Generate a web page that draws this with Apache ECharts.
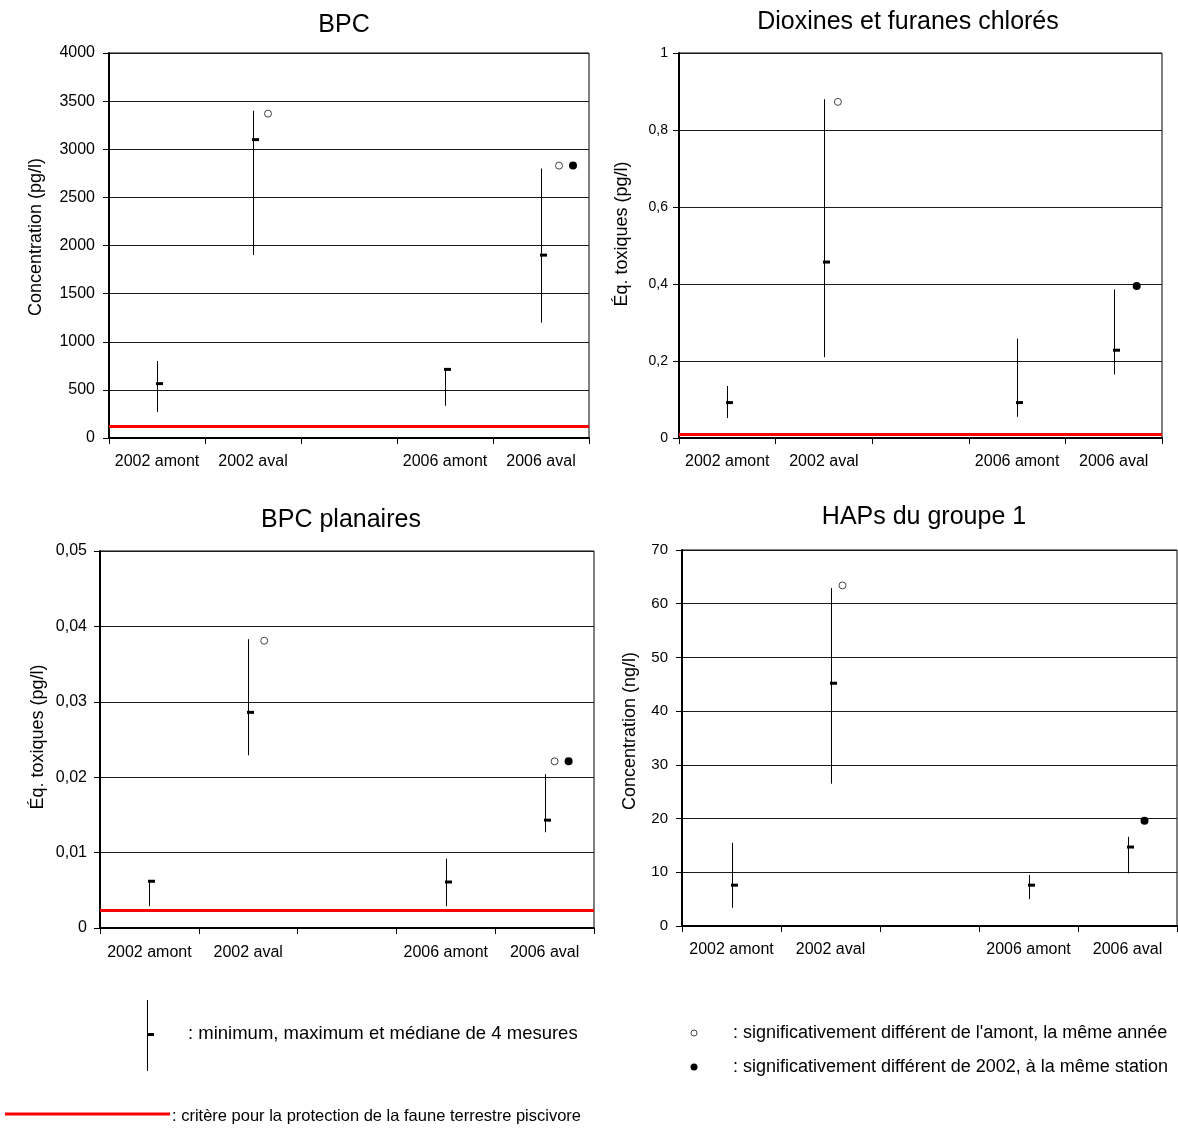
<!DOCTYPE html>
<html>
<head>
<meta charset="utf-8">
<script src="https://cdn.jsdelivr.net/npm/echarts@6/dist/echarts.min.js"></script>
<style>
html,body{margin:0;padding:0;background:#fff;}
#c{width:1178px;height:1141px;}
</style>
</head>
<body>
<div id="c"></div>
<script>
// ---------------- DATA ----------------
const categories = ['2002 amont', '2002 aval', '', '2006 amont', '2006 aval'];

// BPC (pg/l)
const bpcMin = [270, 1900, null, 335, 1200];
const bpcMax = [800, 3400, null, 715, 2800];
const bpcMed = [565, 3100, null, 713, 1900];
const bpcDiffAmont = [null, 3370, null, null, 2830];
const bpcDiff2002 = [null, null, null, null, 2830];
const bpcCritere = 120;
const bpcTicks = ['0', '500', '1000', '1500', '2000', '2500', '3000', '3500', '4000'];

// Dioxines et furanes chlorés (éq. toxiques pg/l)
const dioxMin = [0.052, 0.210, null, 0.055, 0.165];
const dioxMax = [0.135, 0.880, null, 0.258, 0.386];
const dioxMed = [0.092, 0.457, null, 0.092, 0.228];
const dioxDiffAmont = [null, 0.873, null, null, null];
const dioxDiff2002 = [null, null, null, null, 0.395];
const dioxCritere = 0.01;
const dioxTicks = ['0', '0,2', '0,4', '0,6', '0,8', '1'];

// BPC planaires (éq. toxiques pg/l)
const bpcpMin = [0.0029, 0.0229, null, 0.0029, 0.0127];
const bpcpMax = [0.0063, 0.0383, null, 0.0092, 0.0204];
const bpcpMed = [0.0062, 0.0286, null, 0.0061, 0.0143];
const bpcpDiffAmont = [null, 0.0381, null, null, 0.0221];
const bpcpDiff2002 = [null, null, null, null, 0.0221];
const bpcpCritere = 0.0023;
const bpcpTicks = ['0', '0,01', '0,02', '0,03', '0,04', '0,05'];

// HAPs du groupe 1 (ng/l)
const hapMin = [3.4, 26.5, null, 5.0, 9.8];
const hapMax = [15.5, 62.9, null, 9.5, 16.6];
const hapMed = [7.6, 45.2, null, 7.6, 14.7];
const hapDiffAmont = [null, 63.4, null, null, null];
const hapDiff2002 = [null, null, null, null, 19.6];
const hapCritere = null;
const hapTicks = ['0', '10', '20', '30', '40', '50', '60', '70'];

// ---------------- LAYOUT / STYLE ----------------
const FONT = '"Liberation Sans", Arial, Helvetica, sans-serif';
const panels = [
  { title: 'BPC', tx: 344, ty: 25, yName: 'Concentration (pg/l)', nx: 36, ny: 237,
    grid: { left: 109, top: 53, width: 480, height: 385 },
    max: 4000, interval: 500, ticks: bpcTicks, lblSize: 16, lblMargin: 14, xMargin: 16,
    min_: bpcMin, max_: bpcMax, med: bpcMed, open: bpcDiffAmont, fill: bpcDiff2002, crit: bpcCritere,
    openOff: [0, 15, 0, 0, 18], fillOff: [0, 0, 0, 0, 32] },
  { title: 'Dioxines et furanes chlorés', tx: 908, ty: 22, yName: 'Éq. toxiques (pg/l)', nx: 622, ny: 234,
    grid: { left: 679, top: 53, width: 483, height: 385 },
    max: 1, interval: 0.2, ticks: dioxTicks, lblSize: 14, lblMargin: 11, xMargin: 16,
    min_: dioxMin, max_: dioxMax, med: dioxMed, open: dioxDiffAmont, fill: dioxDiff2002, crit: dioxCritere,
    openOff: [0, 14, 0, 0, 0], fillOff: [0, 0, 0, 0, 23] },
  { title: 'BPC planaires', tx: 341, ty: 520, yName: 'Éq. toxiques (pg/l)', nx: 38, ny: 737,
    grid: { left: 100, top: 551, width: 494, height: 377 },
    max: 0.05, interval: 0.01, ticks: bpcpTicks, lblSize: 16, lblMargin: 13, xMargin: 17,
    min_: bpcpMin, max_: bpcpMax, med: bpcpMed, open: bpcpDiffAmont, fill: bpcpDiff2002, crit: bpcpCritere,
    openOff: [0, 16, 0, 0, 10], fillOff: [0, 0, 0, 0, 24] },
  { title: 'HAPs du groupe 1', tx: 924, ty: 517, yName: 'Concentration (ng/l)', nx: 630, ny: 731,
    grid: { left: 682, top: 550, width: 495, height: 376 },
    max: 70, interval: 10, ticks: hapTicks, lblSize: 15, lblMargin: 14, xMargin: 16,
    min_: hapMin, max_: hapMax, med: hapMed, open: hapDiffAmont, fill: hapDiff2002, crit: hapCritere,
    openOff: [0, 12, 0, 0, 0], fillOff: [0, 0, 0, 0, 17] }
];

function renderRange(params, api) {
  const x = api.value(0);
  const lo = api.coord([x, api.value(1)]);
  const hi = api.coord([x, api.value(2)]);
  const md = api.coord([x, api.value(3)]);
  const px = Math.round(lo[0]) + 0.5;
  return {
    type: 'group',
    children: [
      { type: 'line', shape: { x1: px, y1: hi[1], x2: px, y2: lo[1] }, style: { stroke: '#000', lineWidth: 1 } },
      { type: 'rect', shape: { x: px - 1.5, y: md[1] - 1.5, width: 7, height: 3 }, style: { fill: '#000' } }
    ]
  };
}

const grids = [], xAxes = [], yAxes = [], series = [], graphics = [];

panels.forEach((p, k) => {
  grids.push(Object.assign({ show: true, borderColor: '#000', borderWidth: 1, containLabel: false }, p.grid));
  xAxes.push({
    type: 'category', gridIndex: k, data: categories, boundaryGap: true,
    axisLine: { show: true, lineStyle: { color: '#000', width: 2 } },
    axisTick: { show: true, length: 6, interval: 0, lineStyle: { color: '#000', width: 1 } },
    axisLabel: { interval: 0, color: '#000', fontSize: 16, fontFamily: FONT, margin: p.xMargin },
    splitLine: { show: false }
  });
  yAxes.push({
    type: 'value', gridIndex: k, min: 0, max: p.max, interval: p.interval,
    axisLine: { show: true, lineStyle: { color: '#000', width: 2 } },
    axisTick: { show: true, length: 6, lineStyle: { color: '#000', width: 1 } },
    axisLabel: { color: '#000', fontSize: p.lblSize, fontFamily: FONT, margin: p.lblMargin,
      formatter: (v) => p.ticks[Math.round(v / p.interval)] },
    splitLine: { show: true, lineStyle: { color: '#1a1a1a', width: 1 } }
  });

  const rangeData = categories.map((c, i) => p.min_[i] == null ? null : [i, p.min_[i], p.max_[i], p.med[i]]).filter(Boolean);
  series.push({
    type: 'custom', xAxisIndex: k, yAxisIndex: k, renderItem: renderRange,
    data: rangeData, encode: { x: 0, y: [1, 2, 3] }, silent: true, z: 3
  });

  const openPts = p.open.map((v, i) => v == null ? null : { value: [i, v], symbolOffset: [p.openOff[i], 0] }).filter(Boolean);
  const fillPts = p.fill.map((v, i) => v == null ? null : { value: [i, v], symbolOffset: [p.fillOff[i], 0] }).filter(Boolean);

  const openSeries = {
    type: 'scatter', xAxisIndex: k, yAxisIndex: k, data: openPts, symbol: 'circle', symbolSize: 7,
    itemStyle: { color: '#fff', borderColor: '#444', borderWidth: 1, opacity: 1 }, silent: true, z: 4
  };
  if (p.crit != null) {
    openSeries.markLine = {
      silent: true, symbol: 'none', label: { show: false }, animation: false, precision: 8,
      lineStyle: { color: '#ff0000', width: 3, type: 'solid' },
      emphasis: { disabled: true },
      data: [{ yAxis: p.crit }]
    };
  }
  series.push(openSeries);
  series.push({
    type: 'scatter', xAxisIndex: k, yAxisIndex: k, data: fillPts, symbol: 'circle', symbolSize: 8,
    itemStyle: { color: '#000', opacity: 1 }, silent: true, z: 4
  });

  graphics.push({ type: 'text', x: p.tx, y: p.ty, style: { text: p.title, font: '25px ' + FONT, fill: '#000', align: 'center', verticalAlign: 'middle', textAlign: 'center', textVerticalAlign: 'middle' } });
  graphics.push({ type: 'text', x: p.nx, y: p.ny, rotation: Math.PI / 2, style: { text: p.yName, font: '18px ' + FONT, fill: '#000', align: 'center', verticalAlign: 'middle', textAlign: 'center', textVerticalAlign: 'middle' } });
});

// ---------------- LEGEND (graphic) ----------------
const legendTexts = [
  ': minimum, maximum et médiane de 4 mesures',
  ": significativement différent de l'amont, la même année",
  ': significativement différent de 2002, à la même station',
  ': critère pour la protection de la faune terrestre piscivore'
];
graphics.push(
  { type: 'line', shape: { x1: 147.5, y1: 1000, x2: 147.5, y2: 1071 }, style: { stroke: '#000', lineWidth: 1 } },
  { type: 'rect', shape: { x: 147, y: 1033, width: 7, height: 3 }, style: { fill: '#000' } },
  { type: 'text', x: 188, y: 1034, style: { text: legendTexts[0], font: '18.5px ' + FONT, fill: '#000', verticalAlign: 'middle', textVerticalAlign: 'middle' } },
  { type: 'circle', shape: { cx: 694, cy: 1033, r: 3 }, style: { fill: '#fff', stroke: '#444', lineWidth: 1 } },
  { type: 'text', x: 733, y: 1033, style: { text: legendTexts[1], font: '18px ' + FONT, fill: '#000', verticalAlign: 'middle', textVerticalAlign: 'middle' } },
  { type: 'circle', shape: { cx: 694, cy: 1067, r: 3.5 }, style: { fill: '#000' } },
  { type: 'text', x: 733, y: 1067, style: { text: legendTexts[2], font: '18px ' + FONT, fill: '#000', verticalAlign: 'middle', textVerticalAlign: 'middle' } },
  { type: 'line', shape: { x1: 5, y1: 1114, x2: 170, y2: 1114 }, style: { stroke: '#ff0000', lineWidth: 3 } },
  { type: 'text', x: 172, y: 1116, style: { text: legendTexts[3], font: '16.5px ' + FONT, fill: '#000', verticalAlign: 'middle', textVerticalAlign: 'middle' } }
);

const chart = echarts.init(document.getElementById('c'), null, { renderer: 'canvas' });
chart.setOption({
  animation: false,
  backgroundColor: '#fff',
  textStyle: { fontFamily: FONT },
  grid: grids,
  xAxis: xAxes,
  yAxis: yAxes,
  series: series,
  graphic: { elements: graphics }
});
</script>
</body>
</html>
